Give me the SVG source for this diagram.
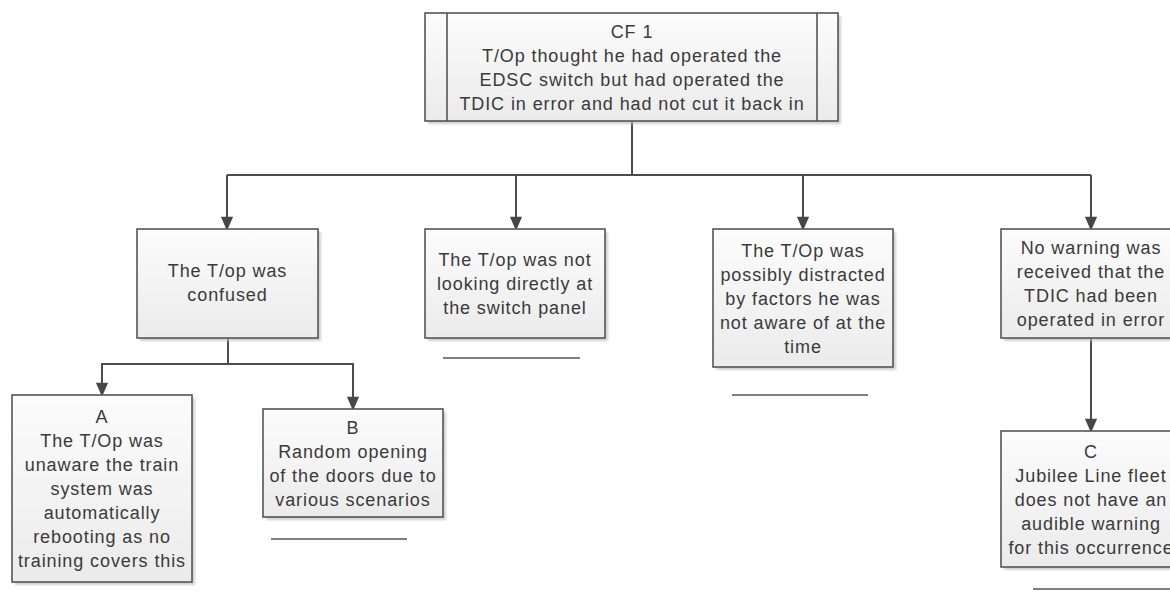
<svg xmlns="http://www.w3.org/2000/svg" width="1170" height="603" viewBox="0 0 1170 603">
<defs>
<linearGradient id="g" x1="0" y1="0" x2="0" y2="1">
<stop offset="0" stop-color="#fcfcfc"/>
<stop offset="1" stop-color="#ebebeb"/>
</linearGradient>
<marker id="arr" viewBox="0 0 14 16" refX="14" refY="7" markerWidth="16" markerHeight="14" markerUnits="userSpaceOnUse" orient="auto">
<path d="M0,0 L16,7 L0,14 Z" fill="#474747"/>
</marker>
<filter id="sh" x="-10%" y="-10%" width="130%" height="130%">
<feGaussianBlur stdDeviation="1.2"/>
</filter>
</defs>
<style>
.box{fill:url(#g);stroke:#555;stroke-width:1.6}
.shadow{fill:#bdbdbd;opacity:0.7;filter:url(#sh)}
.t{font-family:"Liberation Sans",Arial,sans-serif;font-size:18px;letter-spacing:0.9px;fill:#3a3a3a;text-anchor:middle}
.c{fill:none;stroke:#4d4d4d;stroke-width:2}
.u{stroke:#555;stroke-width:1.6}
</style>
<rect width="1170" height="603" fill="#ffffff"/>

<g id="connectors">
<path class="c" d="M632,121 V175"/>
<path class="c" d="M227,175 H1091"/>
<path class="c" d="M227,175 V229" marker-end="url(#arr)"/>
<path class="c" d="M516,175 V229" marker-end="url(#arr)"/>
<path class="c" d="M803,175 V229" marker-end="url(#arr)"/>
<path class="c" d="M1091,175 V229" marker-end="url(#arr)"/>
<path class="c" d="M228,338 V364 H102 V395" marker-end="url(#arr)"/>
<path class="c" d="M228,364 H353 V409" marker-end="url(#arr)"/>
<path class="c" d="M1091,338 V431" marker-end="url(#arr)"/>
</g>

<g id="cf1">
<rect class="shadow" x="428" y="16" width="413" height="108"/>
<rect class="box" x="425" y="13" width="413" height="108"/>
<line x1="447" y1="13" x2="447" y2="121" stroke="#555" stroke-width="1.6"/>
<line x1="817" y1="13" x2="817" y2="121" stroke="#555" stroke-width="1.6"/>
<text class="t" x="632" y="37.5">CF 1</text>
<text class="t" x="632" y="61.5">T/Op thought he had operated the</text>
<text class="t" x="632" y="85.5">EDSC switch but had operated the</text>
<text class="t" x="632" y="109.5">TDIC in error and had not cut it back in</text>
</g>

<g id="confused">
<rect class="shadow" x="140" y="232" width="181" height="109"/>
<rect class="box" x="137" y="229" width="181" height="109"/>
<text class="t" x="227.5" y="277">The T/op was</text>
<text class="t" x="227.5" y="301">confused</text>
</g>

<g id="not-looking">
<rect class="shadow" x="428" y="232" width="180" height="109"/>
<rect class="box" x="425" y="229" width="180" height="109"/>
<text class="t" x="515" y="266">The T/op was not</text>
<text class="t" x="515" y="290">looking directly at</text>
<text class="t" x="515" y="314">the switch panel</text>
<line class="u" x1="443" y1="358" x2="580" y2="358"/>
</g>

<g id="distracted">
<rect class="shadow" x="716" y="232" width="180" height="138"/>
<rect class="box" x="713" y="229" width="180" height="138"/>
<text class="t" x="803" y="256.5">The T/Op was</text>
<text class="t" x="803" y="280.5">possibly distracted</text>
<text class="t" x="803" y="304.5">by factors he was</text>
<text class="t" x="803" y="328.5">not aware of at the</text>
<text class="t" x="803" y="352.5">time</text>
<line class="u" x1="732" y1="395" x2="868" y2="395"/>
</g>

<g id="no-warning">
<rect class="shadow" x="1004" y="232" width="180" height="109"/>
<rect class="box" x="1001" y="229" width="180" height="109"/>
<text class="t" x="1091" y="254">No warning was</text>
<text class="t" x="1091" y="278">received that the</text>
<text class="t" x="1091" y="302">TDIC had been</text>
<text class="t" x="1091" y="326">operated in error</text>
</g>

<g id="node-a">
<rect class="shadow" x="15" y="398" width="180" height="187"/>
<rect class="box" x="12" y="395" width="180" height="187"/>
<text class="t" x="102" y="423">A</text>
<text class="t" x="102" y="447">The T/Op was</text>
<text class="t" x="102" y="471">unaware the train</text>
<text class="t" x="102" y="495">system was</text>
<text class="t" x="102" y="519">automatically</text>
<text class="t" x="102" y="543">rebooting as no</text>
<text class="t" x="102" y="567">training covers this</text>
</g>

<g id="node-b">
<rect class="shadow" x="266" y="412" width="180" height="108"/>
<rect class="box" x="263" y="409" width="180" height="108"/>
<text class="t" x="353" y="433.5">B</text>
<text class="t" x="353" y="457.5">Random opening</text>
<text class="t" x="353" y="481.5">of the doors due to</text>
<text class="t" x="353" y="505.5">various scenarios</text>
<line class="u" x1="271" y1="539" x2="407" y2="539"/>
</g>

<g id="node-c">
<rect class="shadow" x="1004" y="434" width="180" height="136"/>
<rect class="box" x="1001" y="431" width="180" height="136"/>
<text class="t" x="1091" y="457.5">C</text>
<text class="t" x="1091" y="481.5">Jubilee Line fleet</text>
<text class="t" x="1091" y="505.5">does not have an</text>
<text class="t" x="1091" y="529.5">audible warning</text>
<text class="t" x="1091" y="553.5">for this occurrence</text>
<line class="u" x1="1033" y1="589" x2="1175" y2="589"/>
</g>
</svg>
